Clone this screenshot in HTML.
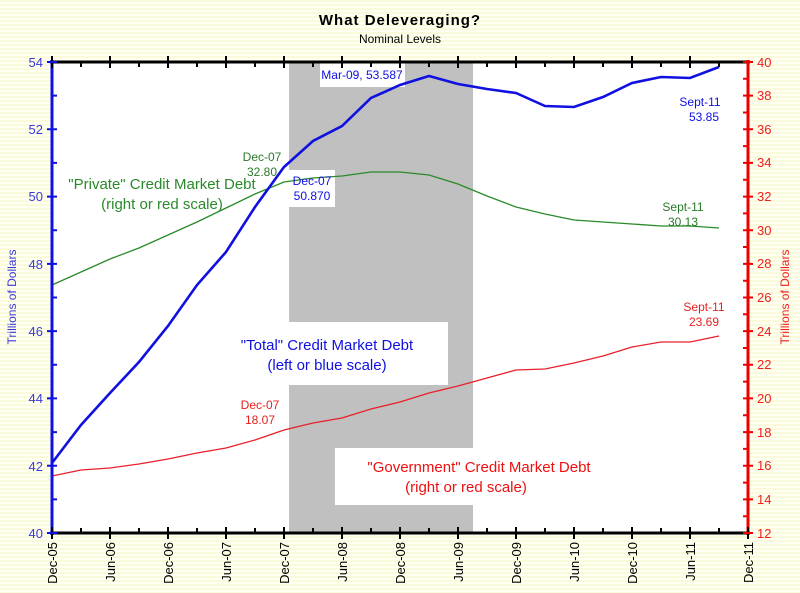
<!DOCTYPE html>
<html><head><meta charset="utf-8"><style>
html,body{margin:0;padding:0;background:#fffff0}
svg{display:block}
text{font-family:"Liberation Sans",Arial,sans-serif}
</style></head><body>
<svg width="800" height="593" viewBox="0 0 800 593" xmlns="http://www.w3.org/2000/svg">
<defs>
<pattern id="st" width="4" height="4" patternUnits="userSpaceOnUse">
<rect width="4" height="4" fill="#fffff4"/><rect width="4" height="2" fill="#fbfbdc"/>
</pattern>
</defs>
<rect width="800" height="593" fill="url(#st)"/>
<rect x="52" y="62" width="696" height="471" fill="#fff"/>
<rect x="289" y="62" width="184" height="471" fill="#c0c0c0"/>
<rect x="220" y="322" width="228" height="63" fill="#fff"/>
<rect x="335" y="448" width="290" height="57" fill="#fff"/>
<rect x="320" y="62" width="85" height="25" fill="#fff"/>
<rect x="289" y="170" width="46" height="37" fill="#fff"/>
<text x="400" y="25" font-size="15" font-weight="bold" text-anchor="middle" letter-spacing="1">What Deleveraging?</text>
<text x="400" y="43" font-size="12" text-anchor="middle">Nominal Levels</text>
<polyline fill="none" stroke="#e8202a" stroke-width="1.3" points="52,476 81,470 110,468 139,464 168,459 197,453 226,448 255,440 284,430 313,423 342,418 371,409 400,402 429,393 458,386 487,378 516,370 545,369 574,363 603,356 632,347 661,342 690,342 719,336"/>
<polyline fill="none" stroke="#2a8a2a" stroke-width="1.3" points="52,285 81,272 110,259 139,248 168,235 197,222 226,208 255,194 284,182 313,178 342,176 371,172 400,172 429,175 458,184 487,196 516,207 545,214 574,220 603,222 632,224 661,226 690,226 719,228"/>
<polyline fill="none" stroke="#1010e0" stroke-width="2.6" points="52,463 81,425 110,393 139,362 168,326 197,285 226,252 255,207 284,167 313,141 342,126 371,98 400,85 429,76 458,84 487,89 516,93 545,106 574,107 603,97 632,83 661,77 690,78 719,67"/>
<line x1="50" y1="62" x2="750" y2="62" stroke="#000" stroke-width="3"/>
<line x1="50" y1="533" x2="750" y2="533" stroke="#000" stroke-width="3"/>
<line x1="52" y1="60" x2="52" y2="535" stroke="#1010e0" stroke-width="3"/>
<line x1="748" y1="60" x2="748" y2="535" stroke="#ee0000" stroke-width="3"/>
<g stroke="#000" stroke-width="2">
<path d="M52,56v12M110,56v12M168,56v12M226,56v12M284,56v12M342,56v12M400,56v12M458,56v12M516,56v12M574,56v12M632,56v12M690,56v12M81,62v5M139,62v5M197,62v5M255,62v5M313,62v5M371,62v5M429,62v5M487,62v5M545,62v5M603,62v5M661,62v5M719,62v5"/>
<path d="M52,527v12M110,527v12M168,527v12M226,527v12M284,527v12M342,527v12M400,527v12M458,527v12M516,527v12M574,527v12M632,527v12M690,527v12M748,527v12M81,528v5M139,528v5M197,528v5M255,528v5M313,528v5M371,528v5M429,528v5M487,528v5M545,528v5M603,528v5M661,528v5M719,528v5"/>
</g>
<g stroke="#1010e0" stroke-width="2">
<path d="M47,62h10M47,129.3h10M47,196.6h10M47,263.9h10M47,331.1h10M47,398.4h10M47,465.7h10M47,533h10M52,95.6h5M52,162.9h5M52,230.2h5M52,297.5h5M52,364.8h5M52,432.1h5M52,499.4h5"/>
</g>
<g stroke="#ee0000" stroke-width="2">
<path d="M743,62h10M743,95.6h10M743,129.3h10M743,162.9h10M743,196.6h10M743,230.2h10M743,263.9h10M743,297.5h10M743,331.1h10M743,364.8h10M743,398.4h10M743,432.1h10M743,465.7h10M743,499.4h10M743,533h10M743,78.8h5M743,112.5h5M743,146.1h5M743,179.8h5M743,213.4h5M743,247h5M743,280.7h5M743,314.3h5M743,348h5M743,381.6h5M743,415.3h5M743,448.9h5M743,482.6h5M743,516.2h5"/>
</g>
<g font-size="13" fill="#3a3ad8" text-anchor="end">
<text x="43" y="67">54</text><text x="43" y="134">52</text><text x="43" y="201">50</text><text x="43" y="269">48</text><text x="43" y="336">46</text><text x="43" y="403">44</text><text x="43" y="471">42</text><text x="43" y="538">40</text>
</g>
<g font-size="13" fill="#ee2020">
<text x="757" y="67">40</text><text x="757" y="100">38</text><text x="757" y="134">36</text><text x="757" y="167">34</text><text x="757" y="201">32</text><text x="757" y="235">30</text><text x="757" y="268">28</text><text x="757" y="302">26</text><text x="757" y="336">24</text><text x="757" y="369">22</text><text x="757" y="403">20</text><text x="757" y="437">18</text><text x="757" y="470">16</text><text x="757" y="504">14</text><text x="757" y="538">12</text>
</g>
<g font-size="13" fill="#000" text-anchor="end">
<text transform="translate(57,542) rotate(-90)">Dec-05</text>
<text transform="translate(115,542) rotate(-90)">Jun-06</text>
<text transform="translate(173,542) rotate(-90)">Dec-06</text>
<text transform="translate(231,542) rotate(-90)">Jun-07</text>
<text transform="translate(289,542) rotate(-90)">Dec-07</text>
<text transform="translate(347,542) rotate(-90)">Jun-08</text>
<text transform="translate(405,542) rotate(-90)">Dec-08</text>
<text transform="translate(463,542) rotate(-90)">Jun-09</text>
<text transform="translate(521,542) rotate(-90)">Dec-09</text>
<text transform="translate(579,542) rotate(-90)">Jun-10</text>
<text transform="translate(637,542) rotate(-90)">Dec-10</text>
<text transform="translate(695,542) rotate(-90)">Jun-11</text>
<text transform="translate(753,542) rotate(-90)">Dec-11</text>
</g>
<text transform="translate(16,297) rotate(-90)" font-size="12" fill="#3a3ad8" text-anchor="middle">Trillions of Dollars</text>
<text transform="translate(789,297) rotate(-90)" font-size="12" fill="#ee2020" text-anchor="middle">Trillions of Dollars</text>
<text x="362" y="79" font-size="12" fill="#1010e0" text-anchor="middle">Mar-09, 53.587</text>
<text x="312" y="185" font-size="12" fill="#1010e0" text-anchor="middle">Dec-07</text>
<text x="312" y="200" font-size="12" fill="#1010e0" text-anchor="middle">50.870</text>
<text x="700" y="106" font-size="12" fill="#1010e0" text-anchor="middle">Sept-11</text>
<text x="704" y="121" font-size="12" fill="#1010e0" text-anchor="middle">53.85</text>
<text x="262" y="161" font-size="12" fill="#2a7a2a" text-anchor="middle">Dec-07</text>
<text x="262" y="176" font-size="12" fill="#2a7a2a" text-anchor="middle">32.80</text>
<text x="683" y="211" font-size="12" fill="#2a7a2a" text-anchor="middle">Sept-11</text>
<text x="683" y="226" font-size="12" fill="#2a7a2a" text-anchor="middle">30.13</text>
<text x="260" y="409" font-size="12" fill="#e82020" text-anchor="middle">Dec-07</text>
<text x="260" y="424" font-size="12" fill="#e82020" text-anchor="middle">18.07</text>
<text x="704" y="311" font-size="12" fill="#e82020" text-anchor="middle">Sept-11</text>
<text x="704" y="326" font-size="12" fill="#e82020" text-anchor="middle">23.69</text>
<text x="162" y="189" font-size="15" fill="#2a8a2a" text-anchor="middle">"Private" Credit Market Debt</text>
<text x="162" y="209" font-size="15" fill="#2a8a2a" text-anchor="middle">(right or red scale)</text>
<text x="327" y="350" font-size="15" fill="#1010e0" text-anchor="middle">"Total" Credit Market Debt</text>
<text x="327" y="370" font-size="15" fill="#1010e0" text-anchor="middle">(left or blue scale)</text>
<text x="479" y="472" font-size="15" fill="#ee1010" text-anchor="middle">"Government" Credit Market Debt</text>
<text x="466" y="492" font-size="15" fill="#ee1010" text-anchor="middle">(right or red scale)</text>
</svg>
</body></html>
